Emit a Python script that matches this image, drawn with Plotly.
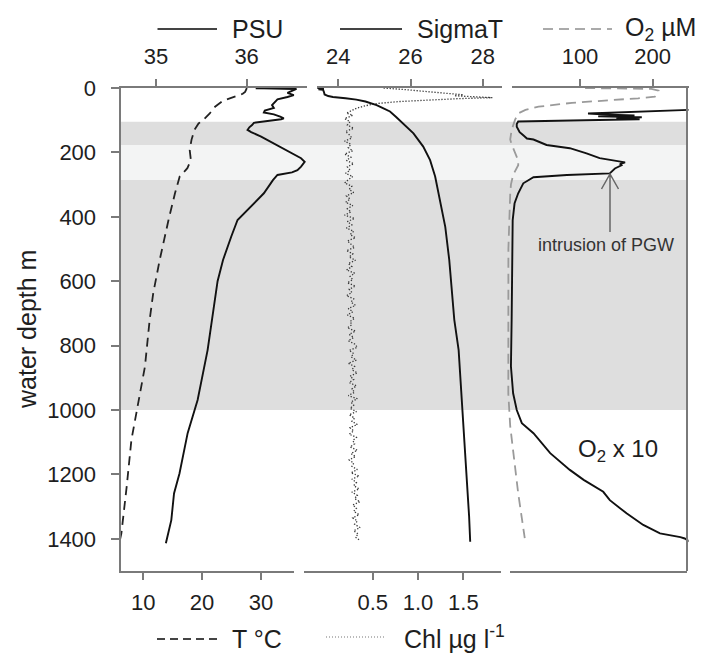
import plotly.graph_objects as go

W, H = 713, 653
FONT = "Liberation Sans, Arial, sans-serif"

# ---------------- data ----------------
# Panel 1: salinity (PSU, top axis) and temperature (T degC, bottom axis)
psu_depth = [0, 1, 1.5, 2, 3, 8, 15, 22, 28, 35, 45, 53, 62, 70, 76, 82, 89, 94, 97, 103,
             108, 115, 122, 130, 137, 151, 172, 187, 203, 218, 229, 244, 255, 262, 270, 286,
             327, 358, 389, 410, 462, 534, 600, 680, 814, 969, 1072, 1197, 1259, 1342, 1414]
psu_val = [36.45, 36.1, 36.5, 36.2, 36.55, 36.5, 36.45, 36.52, 36.45, 36.34, 36.3, 36.28, 36.3,
           36.2, 36.19, 36.3, 36.37, 36.41, 36.38, 36.23, 36.08, 36.06, 36.03, 36.01, 36.05,
           36.16, 36.30, 36.40, 36.49, 36.60, 36.64, 36.60, 36.56, 36.50, 36.34, 36.29, 36.19,
           36.08, 35.97, 35.90, 35.83, 35.74, 35.68, 35.64, 35.57, 35.46, 35.35, 35.26, 35.20,
           35.17, 35.11]

t_depth = [0, 12, 18, 28, 32, 39, 58, 79, 99, 110, 130, 161, 193, 224, 249, 275, 327, 410,
           534, 638, 720, 865, 1000, 1093, 1238, 1383, 1409]
t_val = [27.6, 27.3, 26.9, 25.5, 24.7, 23.6, 22.2, 21.3, 20.2, 19.4, 18.7, 18.2, 17.9, 18.1,
         17.5, 16.2, 15.4, 14.3, 12.8, 11.7, 11.1, 10.3, 8.9, 8.0, 7.2, 6.3, 6.0]

# Panel 2: density (SigmaT, top axis) and chlorophyll (Chl, bottom axis)
sig_depth = [0, 2, 4, 6, 12, 20, 25, 28, 32, 36, 42, 53, 63, 73, 90, 110, 141, 182, 224, 275,
             348, 431, 534, 658, 720, 814, 969, 1072, 1228, 1331, 1409]
sig_val = [23.42, 23.6, 23.45, 23.58, 23.6, 23.62, 23.72, 23.85, 24.2, 24.5, 24.75, 25.06,
           25.25, 25.43, 25.6, 25.8, 26.08, 26.35, 26.54, 26.68, 26.82, 26.96, 27.07, 27.17,
           27.21, 27.33, 27.42, 27.48, 27.56, 27.62, 27.65]

chl_depth = [0, 3, 6, 10, 14, 18, 21, 24, 27, 30, 33, 37, 42, 48, 55, 63, 70, 78] + \
            list(range(85, 1415, 10))
chl_val = [0.62, 0.80, 0.90, 1.05, 1.20, 1.35, 1.50, 1.40, 1.60, 1.82, 1.45, 1.10, 0.80, 0.55,
           0.42, 0.32, 0.26, 0.21,
           # 85 - 395 m
           0.28, 0.19, 0.25, 0.22, 0.29, 0.20, 0.24, 0.27, 0.19, 0.26,
           0.23, 0.28, 0.19, 0.26, 0.21, 0.29, 0.22, 0.25, 0.20, 0.28,
           0.23, 0.19, 0.27, 0.24, 0.29, 0.21, 0.25, 0.20, 0.28, 0.22,
           0.26, 0.19,
           # 405 - 795 m
           0.30, 0.22, 0.27, 0.21, 0.29, 0.25, 0.31, 0.22, 0.26, 0.30,
           0.21, 0.28, 0.24, 0.31, 0.23, 0.27, 0.21, 0.30, 0.25, 0.28,
           0.22, 0.31, 0.24, 0.27, 0.21, 0.29, 0.26, 0.31, 0.23, 0.28,
           0.22, 0.30, 0.25, 0.27, 0.22, 0.31, 0.24, 0.29, 0.23, 0.30,
           # 805 - 1195 m
           0.33, 0.24, 0.29, 0.26, 0.32, 0.23, 0.30, 0.27, 0.33, 0.25,
           0.29, 0.24, 0.32, 0.27, 0.30, 0.23, 0.33, 0.26, 0.29, 0.25,
           0.32, 0.24, 0.30, 0.27, 0.33, 0.25, 0.29, 0.24, 0.32, 0.28,
           0.30, 0.25, 0.33, 0.26, 0.31, 0.24, 0.29, 0.27, 0.33, 0.26,
           # 1205 - 1405 m
           0.35, 0.27, 0.32, 0.29, 0.35, 0.27, 0.33, 0.30, 0.36, 0.28,
           0.32, 0.29, 0.35, 0.28, 0.33, 0.30, 0.36, 0.29, 0.34, 0.31,
           0.36]

# Panel 3: oxygen (uM, dashed) and oxygen x 10 (solid)
o2_depth = [0, 3, 8, 14, 20, 27, 32, 39, 46, 58, 68, 79, 99, 130, 160, 175, 190, 210, 225, 240,
            255, 270, 300, 330, 500, 720, 950, 1050, 1124, 1259, 1398]
o2_val = [107, 198, 208, 207, 206, 203, 180, 134, 89, 43, 25, 15, 10.6, 6, 4, 6, 9, 13, 15, 15,
          12, 8, 5, 4, 1.5, 1.4, 1.4, 4, 8, 15, 24]

o2x10_depth = [0, 10, 30, 50, 60, 68, 79, 82, 85, 88, 91, 94, 97, 104, 112, 120, 137, 147, 157,
               160, 177, 187, 203, 218, 231, 236, 240, 250, 260, 265, 270, 277, 296, 327, 358,
               410, 716, 865, 948, 1000, 1041, 1072, 1134, 1186, 1217, 1254, 1280, 1321, 1357,
               1383, 1395, 1399, 1410]
o2x10_val = [1100, 2080, 1900, 700, 400, 250, 111, 130, 175, 125, 185, 150, 182, 15, 13, 13, 17,
             22, 27, 36, 54, 86, 109, 127, 162, 155, 157, 148, 144, 141, 82, 36, 22, 15, 10, 7.4,
             6, 5, 8, 13, 20, 36, 59, 86, 105, 132, 141, 164, 187, 210, 238, 244, 252]

# depth bands (m)
band_gray = (105, 1000)
band_light = (177, 286)

# axis ticks
y_ticks = [0, 200, 400, 600, 800, 1000, 1200, 1400]
t_ticks = [10, 20, 30]
psu_ticks = [35, 36]
chl_ticks = [0.5, 1.0, 1.5]
chl_ticktext = ["0.5", "1.0", "1.5"]
sig_ticks = [24, 26, 28]
o2_ticks = [100, 200]


# ---------------- helpers ----------------
def px(x):
    return x / W


def py(y):
    return 1 - y / H


AX_COL = "#7a7a7a"
TXT_COL = "#1e1e1e"

Y_TOP, Y_BOT = 88, 571
ydom = [py(Y_BOT), py(Y_TOP)]


def xax(dom, rng, tickvals, side, ticktext=None, ticks="outside"):
    d = dict(domain=[px(dom[0]), px(dom[1])], range=rng, anchor="y", side=side,
             automargin=False,
             showline=True, linecolor=AX_COL, linewidth=2, showgrid=False, zeroline=False,
             ticks=ticks, ticklen=7, tickwidth=2, tickcolor=AX_COL, tickvals=tickvals,
             tickfont=dict(size=22, color=TXT_COL, family=FONT),
             ticklabelstandoff=6 if side == "top" else 4, fixedrange=True)
    if ticktext is not None:
        d["ticktext"] = ticktext
    return d


# oxygen axis scale: 0 uM at x=507.3 px, 0.727 px per uM
O2_DATA_DOM = (500, 688.5)
O2_DATA_RNG = [(500 - 507.3) / 0.727, (688.5 - 507.3) / 0.727]
O2_AX_DOM = (511.5, 688.5)
O2_AX_RNG = [(511.5 - 507.3) / 0.727, (688.5 - 507.3) / 0.727]

fig = go.Figure()

# traces
fig.add_trace(go.Scatter(x=t_val, y=t_depth, xaxis="x", yaxis="y", mode="lines",
                         line=dict(color="#222", width=1.8, dash="9px,6px")))
fig.add_trace(go.Scatter(x=psu_val, y=psu_depth, xaxis="x2", yaxis="y", mode="lines",
                         line=dict(color="#111", width=1.9)))
fig.add_trace(go.Scatter(x=chl_val, y=chl_depth, xaxis="x3", yaxis="y", mode="lines",
                         line=dict(color="#3a3a3a", width=1.3, dash="1.3px,1.7px")))
fig.add_trace(go.Scatter(x=sig_val, y=sig_depth, xaxis="x4", yaxis="y", mode="lines",
                         line=dict(color="#111", width=1.9)))
fig.add_trace(go.Scatter(x=[None], y=[None], xaxis="x5", yaxis="y", mode="lines"))
fig.add_trace(go.Scatter(x=[None], y=[None], xaxis="x6", yaxis="y", mode="lines"))
fig.add_trace(go.Scatter(x=o2_val, y=o2_depth, xaxis="x7", yaxis="y", mode="lines",
                         line=dict(color="#9a9a9a", width=1.8, dash="10px,6px")))
fig.add_trace(go.Scatter(x=o2x10_val, y=o2x10_depth, xaxis="x7", yaxis="y", mode="lines",
                         line=dict(color="#111", width=1.9)))

layout = dict(
    width=W, height=H, margin=dict(l=0, r=0, t=0, b=0, autoexpand=False),
    paper_bgcolor="white", plot_bgcolor="rgba(0,0,0,0)", showlegend=False,
    font=dict(family=FONT, color=TXT_COL),
    yaxis=dict(domain=ydom, range=[1500, 0], anchor="x", tickvals=y_ticks, automargin=False,
               showline=True, linecolor=AX_COL, linewidth=2, showgrid=False, zeroline=False,
               ticks="outside", ticklen=8, tickwidth=2, tickcolor=AX_COL,
               tickfont=dict(size=22, color=TXT_COL, family=FONT), ticklabelstandoff=10,
               fixedrange=True),
    xaxis=xax((120.5, 294), [6.15, 35.6], t_ticks, "bottom"),
    xaxis2=xax((120.5, 306.5), [34.61, 36.66], psu_ticks, "top"),
    xaxis3=xax((303.5, 500.5), [-0.264, 1.91], chl_ticks, "bottom", chl_ticktext),
    xaxis4=xax((317, 502), [23.41, 28.53], sig_ticks, "top"),
    xaxis5=xax((510, 687), [0, 1], [], "bottom", ticks=""),
    xaxis6=xax(O2_AX_DOM, O2_AX_RNG, o2_ticks, "top"),
    xaxis7=dict(domain=[px(O2_DATA_DOM[0]), px(O2_DATA_DOM[1])], range=O2_DATA_RNG,
                anchor="y", visible=False, automargin=False, fixedrange=True),
)
fig.update_layout(**layout)

# background depth bands across the whole plot width
fig.add_shape(type="rect", xref="paper", yref="y", x0=px(120.5), x1=px(687),
              y0=band_gray[0], y1=band_gray[1], fillcolor="#dedede", line_width=0,
              layer="below")
fig.add_shape(type="rect", xref="paper", yref="y", x0=px(120.5), x1=px(687),
              y0=band_light[0], y1=band_light[1], fillcolor="#f3f4f4", line_width=0,
              layer="below")

# right frame line of oxygen panel
fig.add_shape(type="line", xref="paper", yref="paper", x0=px(687), x1=px(687),
              y0=py(Y_BOT), y1=py(Y_TOP), line=dict(color=AX_COL, width=2))

# y-axis title
fig.add_annotation(text="water depth m", xref="paper", yref="paper", x=px(27), y=py(330),
                   textangle=-90, showarrow=False, font=dict(size=25, color=TXT_COL),
                   xanchor="center", yanchor="middle")

# custom legends
legend_items = [
    (157.5, 217, 29, dict(color="#444", width=2), "PSU", 230),
    (340, 402, 29, dict(color="#444", width=2), "SigmaT", 415),
    (543, 612, 29, dict(color="#aaa", width=2, dash="10px,6px"), "O<sub>2</sub> µM", 623),
    (157, 217, 639, dict(color="#444", width=2, dash="8px,5px"), "T °C", 230),
    (326, 386, 637, dict(color="#777", width=1.2, dash="1px,2px"), "Chl µg l<sup>-1</sup>", 402),
]
for x0, x1, yy, ln, label, tx in legend_items:
    fig.add_shape(type="line", xref="paper", yref="paper", x0=px(x0), x1=px(x1),
                  y0=py(yy), y1=py(yy), line=ln)
    fig.add_annotation(text=label, xref="paper", yref="paper", x=px(tx), y=py(yy),
                       xanchor="left", yanchor="middle", showarrow=False,
                       font=dict(size=25, color=TXT_COL))

# "O2 x 10" label
fig.add_annotation(text="O<sub>2</sub> x 10", xref="paper", yref="paper", x=px(618), y=py(450),
                   showarrow=False, font=dict(size=24, color=TXT_COL),
                   xanchor="center", yanchor="middle")

# intrusion of PGW annotation with open arrow
fig.add_annotation(text="intrusion of PGW", xref="paper", yref="paper", x=px(606), y=py(245),
                   showarrow=False, font=dict(size=18, color="#333"),
                   xanchor="center", yanchor="middle")
fig.add_shape(type="path", xref="paper", yref="paper",
              path=f"M {px(610)},{py(232)} L {px(610)},{py(174)} "
                   f"M {px(601.5)},{py(189)} L {px(610)},{py(174)} L {px(618.5)},{py(189)}",
              line=dict(color="#666", width=1.5))

fig.write_html("out.html")
